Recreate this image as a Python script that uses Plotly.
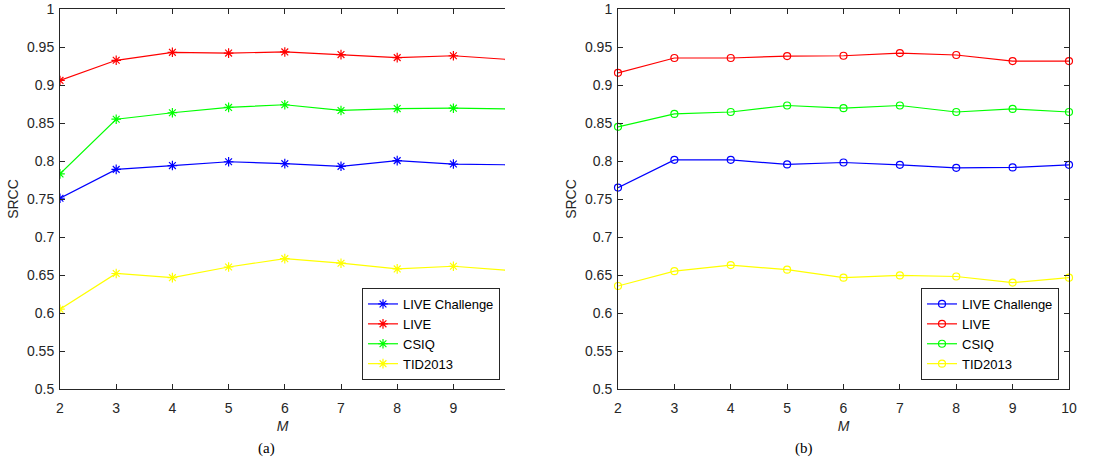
import plotly.graph_objects as go

W, H = 1119, 471

M = [2, 3, 4, 5, 6, 7, 8, 9, 10]
series_names = ["LIVE Challenge", "LIVE", "CSIQ", "TID2013"]
colors = ["#0000FF", "#FF0000", "#00FF00", "#FFFF00"]

# (a) asterisk markers
a_live_challenge = [0.751, 0.789, 0.794, 0.799, 0.7965, 0.793, 0.8005, 0.796, 0.795]
a_live = [0.906, 0.9325, 0.943, 0.942, 0.9435, 0.940, 0.936, 0.9385, 0.9335]
a_csiq = [0.783, 0.855, 0.8635, 0.8705, 0.874, 0.8665, 0.869, 0.8695, 0.8685]
a_tid2013 = [0.605, 0.652, 0.6465, 0.6605, 0.6715, 0.6655, 0.658, 0.6615, 0.656]

# (b) circle markers
b_live_challenge = [0.765, 0.8015, 0.8015, 0.7955, 0.798, 0.795, 0.791, 0.7915, 0.795]
b_live = [0.916, 0.9355, 0.9355, 0.938, 0.9385, 0.942, 0.9395, 0.9315, 0.9315]
b_csiq = [0.845, 0.862, 0.8645, 0.873, 0.8695, 0.873, 0.8645, 0.8685, 0.8645]
b_tid2013 = [0.6355, 0.655, 0.663, 0.657, 0.6465, 0.6495, 0.648, 0.64, 0.6465]

y_ticks = [0.5, 0.55, 0.6, 0.65, 0.7, 0.75, 0.8, 0.85, 0.9, 0.95, 1]
y_ticktext = ["0.5", "0.55", "0.6", "0.65", "0.7", "0.75", "0.8", "0.85", "0.9", "0.95", "1"]
x_ticks = [2, 3, 4, 5, 6, 7, 8, 9, 10]


def fx(px):
    return px / W


def fy(py):
    return 1 - py / H


fig = go.Figure()

a_data = [a_live_challenge, a_live, a_csiq, a_tid2013]
b_data = [b_live_challenge, b_live, b_csiq, b_tid2013]

for name, col, ys in zip(series_names, colors, a_data):
    fig.add_trace(go.Scatter(
        x=M, y=ys, name=name, mode="lines+markers",
        line=dict(color=col, width=1.2),
        marker=dict(symbol="asterisk-open", size=8, color=col, line=dict(color=col, width=1.2)),
        xaxis="x", yaxis="y", legend="legend", cliponaxis=True))

for name, col, ys in zip(series_names, colors, b_data):
    fig.add_trace(go.Scatter(
        x=M, y=ys, name=name, mode="lines+markers",
        line=dict(color=col, width=1.2),
        marker=dict(symbol="circle-open", size=7, color=col, line=dict(color=col, width=1.2)),
        xaxis="x2", yaxis="y2", legend="legend2", cliponaxis=False))

FONT = "Liberation Sans, Arial, sans-serif"
tickfont = dict(family=FONT, size=14, color="#262626")
axcol = "#262626"

common_x = dict(tickmode="array", tickvals=x_ticks, ticks="inside", ticklen=5, tickcolor=axcol,
                showline=True, linecolor=axcol, linewidth=1, showgrid=False, zeroline=False,
                tickfont=tickfont, ticklabelstandoff=6, automargin=False, ticklabeloverflow="allow",
                title=dict(text="<i>M</i>", font=dict(family=FONT, size=14, color="#262626"), standoff=6))
common_y = dict(range=[0.5, 1], tickmode="array", tickvals=y_ticks, ticktext=y_ticktext, ticks="inside",
                ticklen=5, tickcolor=axcol, showline=True, linecolor=axcol, linewidth=1,
                showgrid=False, zeroline=False, tickfont=tickfont, ticklabelstandoff=2, automargin=False,
                ticklabeloverflow="allow",
                title=dict(text="SRCC", font=dict(family=FONT, size=14, color="#262626"), standoff=5))

left_dom = [fx(60), fx(505)]
right_dom = [fx(618), fx(1069)]
y_dom = [fy(389), fy(9)]

legend_common = dict(yanchor="bottom", xanchor="right", bordercolor=axcol, borderwidth=1, bgcolor="white",
                     font=dict(family=FONT, size=13, color="#000000"), tracegroupgap=0, itemwidth=30)

fig.update_layout(
    width=W, height=H,
    margin=dict(l=0, r=0, t=0, b=0, autoexpand=False),
    paper_bgcolor="white", plot_bgcolor="white",
    xaxis=dict(domain=left_dom, range=[2, 2 + (505 - 60) / 56.2], anchor="y", mirror="ticks", **common_x),
    yaxis=dict(domain=y_dom, anchor="x", mirror=False, **common_y),
    xaxis2=dict(domain=right_dom, range=[2, 10], anchor="y2", mirror="ticks", **common_x),
    yaxis2=dict(domain=y_dom, anchor="x2", mirror="ticks", **common_y),
    legend=dict(x=fx(500), y=fy(380), **legend_common),
    legend2=dict(x=fx(1059), y=fy(380), **legend_common),
    showlegend=True,
    annotations=[
        dict(text="(a)", x=fx(256), y=fy(459), xref="paper", yref="paper", showarrow=False,
             font=dict(family="Liberation Serif, Times New Roman, serif", size=15, color="#000000")),
        dict(text="(b)", x=fx(815), y=fy(459), xref="paper", yref="paper", showarrow=False,
             font=dict(family="Liberation Serif, Times New Roman, serif", size=15, color="#000000")),
    ],
)

# remove the browser's default 8px page margin so the figure sits at the window's corner
fig.write_html("out.html", config={"displayModeBar": False},
               post_script="document.body.style.margin='0';document.body.style.overflow='hidden';")
